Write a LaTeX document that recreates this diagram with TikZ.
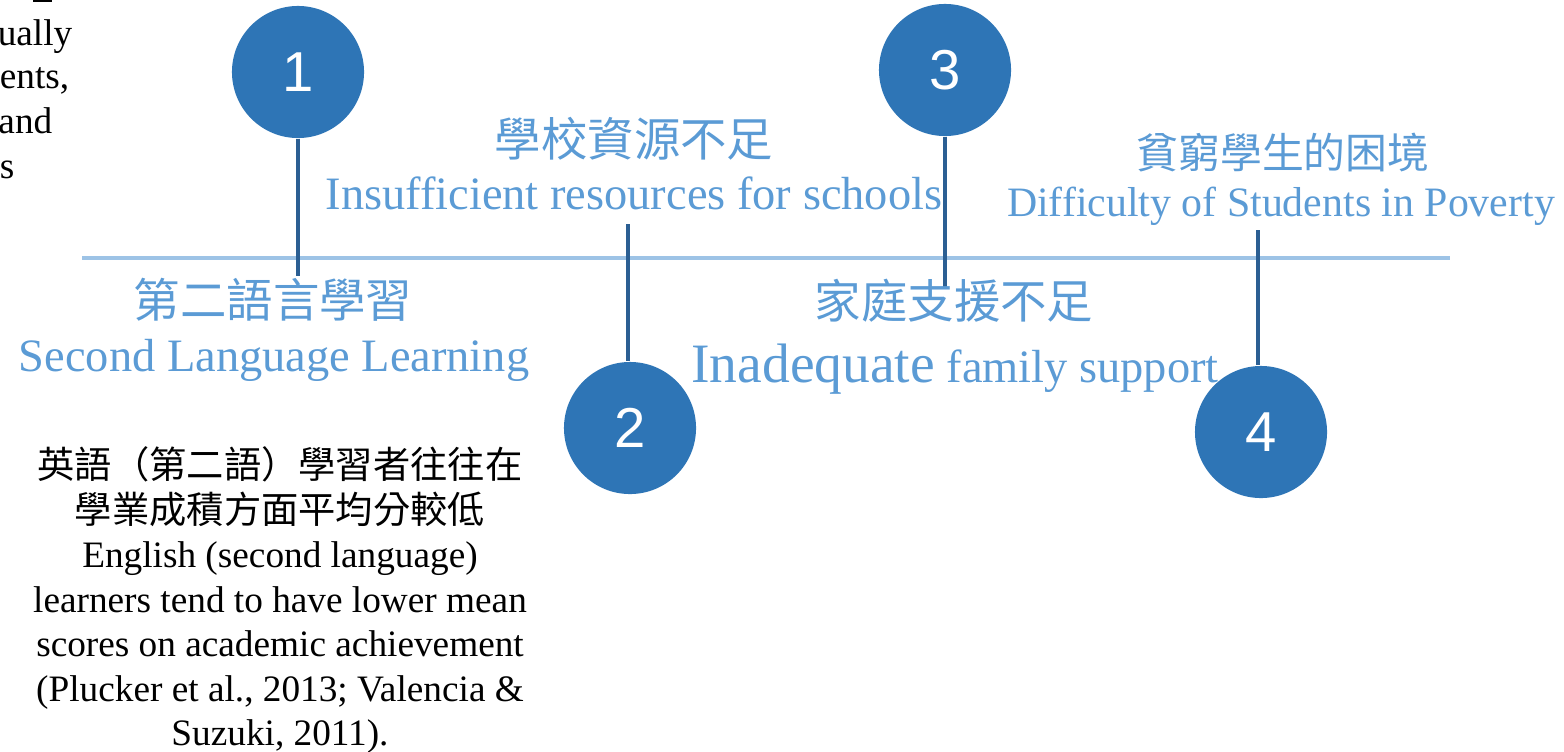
\documentclass[tikz,border=0pt]{standalone}
\usepackage{fontspec}
\setmainfont{Liberation Serif}
\newfontfamily\cjk{Noto Sans CJK TC}
\newfontfamily\numfont{Liberation Sans}
\usepackage{xcolor}
\definecolor{DotBlue}{HTML}{2E75B6}
\definecolor{StemBlue}{HTML}{2B5F93}
\definecolor{AxisBlue}{HTML}{9DC3E6}
\definecolor{LabelBlue}{HTML}{5B9BD5}
\usetikzlibrary{positioning}

\begin{document}
\begin{tikzpicture}[
  x=0.01cm, y=-0.01cm,
  dot/.style={circle, fill=DotBlue, minimum size=1.32cm, inner sep=0pt,
              text=white, font=\numfont\fontsize{16}{19}\selectfont},
  stem/.style={StemBlue, line width=0.9pt},
  axis/.style={AxisBlue, line width=0.9pt},
  zh/.style={anchor=base, text=LabelBlue, inner sep=0pt,
             font=\cjk\fontsize{13.2}{15}\selectfont},
  en/.style={anchor=base, text=LabelBlue, inner sep=0pt,
             font=\fontsize{13.2}{15}\selectfont},
  note/.style={inner sep=0pt, font=\fontsize{10.6}{12.67}\selectfont}
]
  \useasboundingbox (0,0) rectangle (1564,751);

  % cut-off text on the left
  \node[note, anchor=base east] (frag1) at (73,45) {ually};
  \node[note, anchor=base east] (frag2) at (70,88) {ents,};
  \node[note, anchor=base east] (frag3) at (53,133) {and};
  \node[note, anchor=base east] (frag4) at (15,178) {s};
  \draw[line width=0.6pt] (33,1) -- (52,1);

  % time line
  \coordinate (axl) at (82,258);
  \coordinate (axr) at (1450,258);
  \draw[axis] (axl) -- (axr);

  % numbered dots
  \node[dot] (c1) at (298,72) {1};
  \node[dot] (c2) at (630,428) {2};
  \node[dot] (c3) at (945,70) {3};
  \node[dot] (c4) at (1261,432) {4};

  \coordinate (s1) at (298,276);
  \coordinate (s2) at (628,224);
  \coordinate (s3) at (945,288);
  \coordinate (s4) at (1258,230);
  \draw[stem] (c1.south) -- (s1);
  \draw[stem] (s2) -- (s2 |- c2.north);
  \draw[stem] (c3.south) -- (s3);
  \draw[stem] (s4) -- (s4 |- c4.north);

  % labels
  \node[zh] (zh2) at (634,156) {學校資源不足};
  \node[en] (en2) at (634,209) {Insufficient resources for schools};
  \node[zh] (zh4) at (1283,168) {\fontsize{11.9}{14}\selectfont 貧窮學生的困境};
  \node[en] (en4) at (1281,216) {\fontsize{11.9}{14}\selectfont Difficulty of Students in Poverty};
  \node[zh] (zh1) at (273,317) {第二語言學習};
  \node[en] (en1) at (274,371) {Second Language Learning};
  \node[zh] (zh3) at (954,318) {家庭支援不足};
  \node[en] (en3) at (955,382) {{\fontsize{15.8}{18}\selectfont Inadequate} family support};

  % note under the first item
  \node[note, anchor=north, align=center] (desc1) at (280,446)
    {{\cjk 英語（第二語）學習者往往在}\\
     {\cjk 學業成積方面平均分較低}\\
     English (second language)\\
     learners tend to have lower mean\\
     scores on academic achievement\\
     (Plucker et al., 2013; Valencia \&\\
     Suzuki, 2011).};
\end{tikzpicture}
\end{document}
